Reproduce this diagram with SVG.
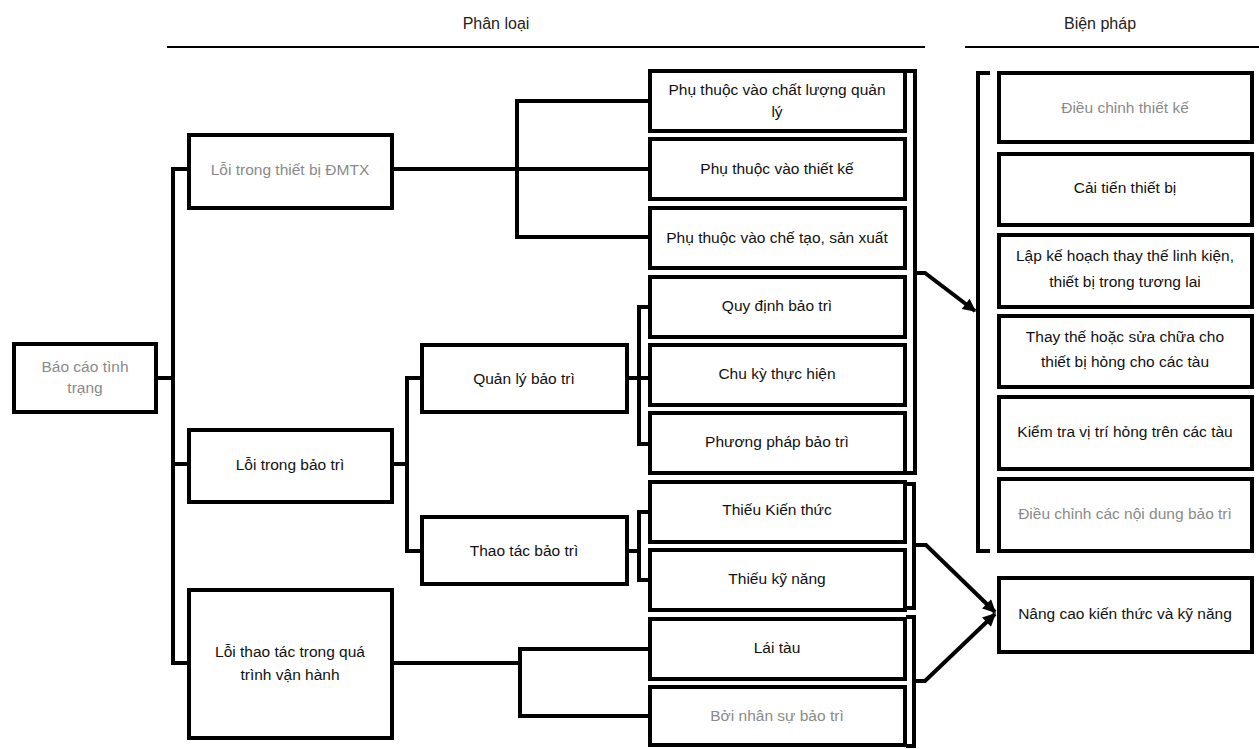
<svg xmlns="http://www.w3.org/2000/svg" width="1259" height="749" viewBox="0 0 1259 749">
  <defs>
    <style>
      .box { fill: #ffffff; stroke: #000000; stroke-width: 4; }
      .wire { fill: none; stroke: #000000; stroke-width: 4; stroke-linejoin: miter; }
      .rule { fill: none; stroke: #000000; stroke-width: 2; }
      .t { font-family: "Liberation Sans", Arial, sans-serif; font-size: 15.5px; text-anchor: middle; fill: #111111; }
      .g { fill: #8a8a8a; }
      .h { font-family: "Liberation Sans", Arial, sans-serif; font-size: 16px; text-anchor: middle; fill: #222222; }
    </style>
    <marker id="arrow" viewBox="0 0 10 10" refX="9" refY="5" markerWidth="15" markerHeight="13" orient="auto" markerUnits="userSpaceOnUse">
      <path d="M0 0 L10 5 L0 10 Z" fill="#000000"/>
    </marker>
  </defs>

  <rect width="1259" height="749" fill="#ffffff"/>

  <!-- column headings -->
  <g id="headings">
    <text class="h" x="496" y="29">Phân loại</text>
    <line class="rule" x1="167" y1="47" x2="925" y2="47"/>
    <text class="h g" x="1100" y="29">Biện pháp</text>
    <line class="rule" x1="965" y1="47" x2="1259" y2="47"/>
  </g>

  <!-- connectors -->
  <g id="connectors">
    <!-- root to level 1 -->
    <path class="wire" d="M157 378 H173 M187 169 H173 V663 H187 M173 464 H187"/>
    <!-- equipment faults -->
    <path class="wire" d="M393 169 H650 M517 169 V101 H650 M517 169 V237 H650"/>
    <!-- maintenance faults -->
    <path class="wire" d="M393 464 H407 V378 H421 M407 464 V551 H421"/>
    <path class="wire" d="M628 378 H639 V307 H650 M639 378 V444 H650 M639 378 H650"/>
    <path class="wire" d="M628 551 H639 V512 H650 M639 551 V580 H650"/>
    <!-- operation faults -->
    <path class="wire" d="M393 663 H520 V649 H650 M520 663 V716 H650"/>
    <!-- brackets on the classification column -->
    <path class="wire" d="M906 71 H915 V473 H906"/>
    <path class="wire" d="M906 484 H914 V608 H906"/>
    <path class="wire" d="M906 617 H914 V746 H906"/>
    <!-- bracket on the measures column -->
    <path class="wire" d="M990 73 H978 V551 H990"/>
    <!-- arrows to measures -->
    <path class="wire" d="M915 273 H925 L975 311" marker-end="url(#arrow)"/>
    <path class="wire" d="M914 545 H926 L995 612" marker-end="url(#arrow)"/>
    <path class="wire" d="M914 681 H925 L995 614" marker-end="url(#arrow)"/>
  </g>

  <!-- root -->
  <g id="node-bao-cao">
    <rect class="box" x="14" y="344" width="142" height="68"/>
    <text class="t g" x="85" y="372">Báo cáo tình</text>
    <text class="t g" x="85" y="393">trạng</text>
  </g>

  <!-- level 1 -->
  <g id="node-loi-thiet-bi">
    <rect class="box" x="189" y="135" width="203" height="73"/>
    <text class="t g" x="290" y="175">Lỗi trong thiết bị ĐMTX</text>
  </g>
  <g id="node-loi-bao-tri">
    <rect class="box" x="189" y="430" width="203" height="72"/>
    <text class="t" x="290" y="470">Lỗi trong bảo trì</text>
  </g>
  <g id="node-loi-thao-tac">
    <rect class="box" x="189" y="590" width="203" height="148"/>
    <text class="t" x="290" y="657">Lỗi thao tác trong quá</text>
    <text class="t" x="290" y="680">trình vận hành</text>
  </g>

  <!-- level 2 -->
  <g id="node-quan-ly-bao-tri">
    <rect class="box" x="422" y="345" width="205" height="67"/>
    <text class="t" x="524" y="384">Quản lý bảo trì</text>
  </g>
  <g id="node-thao-tac-bao-tri">
    <rect class="box" x="422" y="517" width="205" height="67"/>
    <text class="t" x="524" y="556">Thao tác bảo trì</text>
  </g>

  <!-- classification column -->
  <g id="node-chat-luong">
    <rect class="box" x="650" y="71" width="255" height="60"/>
    <text class="t" x="777" y="95">Phụ thuộc vào chất lượng quản</text>
    <text class="t" x="777" y="117">lý</text>
  </g>
  <g id="node-thiet-ke">
    <rect class="box" x="650" y="139" width="255" height="60"/>
    <text class="t" x="777" y="174">Phụ thuộc vào thiết  kế</text>
  </g>
  <g id="node-che-tao">
    <rect class="box" x="650" y="208" width="255" height="60"/>
    <text class="t" x="777" y="243">Phụ thuộc vào chế tạo,  sản xuất</text>
  </g>
  <g id="node-quy-dinh">
    <rect class="box" x="650" y="277" width="255" height="60"/>
    <text class="t" x="777" y="311">Quy định bảo trì</text>
  </g>
  <g id="node-chu-ky">
    <rect class="box" x="650" y="345" width="255" height="60"/>
    <text class="t" x="777" y="379">Chu kỳ thực hiện</text>
  </g>
  <g id="node-phuong-phap">
    <rect class="box" x="650" y="413" width="255" height="60"/>
    <text class="t" x="777" y="447">Phương pháp bảo trì</text>
  </g>
  <g id="node-kien-thuc">
    <rect class="box" x="650" y="482" width="255" height="60"/>
    <text class="t" x="777" y="515">Thiếu Kiến thức</text>
  </g>
  <g id="node-ky-nang">
    <rect class="box" x="650" y="550" width="255" height="60"/>
    <text class="t" x="777" y="584">Thiếu kỹ năng</text>
  </g>
  <g id="node-lai-tau">
    <rect class="box" x="650" y="619" width="255" height="60"/>
    <text class="t" x="777" y="653">Lái tàu</text>
  </g>
  <g id="node-nhan-su">
    <rect class="box" x="650" y="687" width="255" height="58"/>
    <text class="t g" x="777" y="721">Bởi nhân sự bảo trì</text>
  </g>

  <!-- measures column -->
  <g id="node-dieu-chinh-thiet-ke">
    <rect class="box" x="999" y="73" width="253" height="69"/>
    <text class="t g" x="1125" y="113">Điều chỉnh thiết  kế</text>
  </g>
  <g id="node-cai-tien">
    <rect class="box" x="999" y="154" width="253" height="71"/>
    <text class="t" x="1125" y="193">Cải tiến thiết bị</text>
  </g>
  <g id="node-lap-ke-hoach">
    <rect class="box" x="999" y="235" width="253" height="72"/>
    <text class="t" x="1125" y="261">Lập kế hoạch thay thế linh kiện,</text>
    <text class="t" x="1125" y="287">thiết bị trong tương lai</text>
  </g>
  <g id="node-thay-the">
    <rect class="box" x="999" y="316" width="253" height="71"/>
    <text class="t" x="1125" y="342">Thay thế hoặc sửa chữa cho</text>
    <text class="t" x="1125" y="367">thiết bị hỏng cho các tàu</text>
  </g>
  <g id="node-kiem-tra">
    <rect class="box" x="999" y="397" width="253" height="72"/>
    <text class="t" x="1125" y="437">Kiểm tra vị trí hỏng trên các tàu</text>
  </g>
  <g id="node-dieu-chinh-noi-dung">
    <rect class="box" x="999" y="479" width="253" height="72"/>
    <text class="t g" x="1125" y="519">Điều chỉnh các nội dung bảo trì</text>
  </g>
  <g id="node-nang-cao">
    <rect class="box" x="999" y="578" width="253" height="74"/>
    <text class="t" x="1125" y="619">Nâng cao kiến thức và kỹ năng</text>
  </g>
</svg>
